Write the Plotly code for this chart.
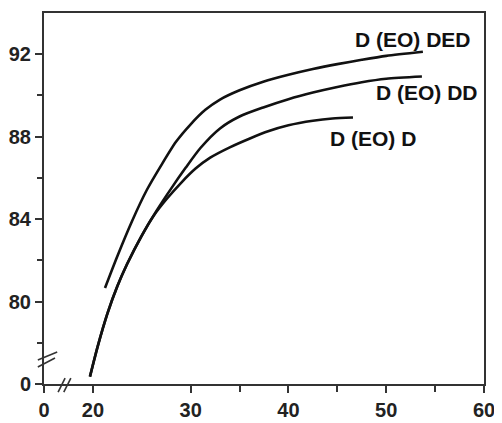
import plotly.graph_objects as go

# ---- data ----
ded_x = [21.24, 22.5, 24.0, 25.5, 27.0, 28.5, 30.0, 31.5, 33.0, 35.0, 37.5, 40.0, 42.5, 45.0, 47.5, 50.0, 53.75]
ded_y = [80.66, 82.20, 83.90, 85.40, 86.62, 87.75, 88.60, 89.30, 89.80, 90.25, 90.68, 91.00, 91.28, 91.52, 91.73, 91.92, 92.12]

dd_x = [19.70, 20.5, 21.5, 22.5, 23.5, 25.0, 26.5, 28.0, 29.5, 31.0, 33.0, 35.0, 37.5, 40.0, 42.5, 45.0, 47.5, 50.0, 53.65]
dd_y = [76.36, 77.84, 79.44, 80.74, 81.82, 83.20, 84.40, 85.48, 86.50, 87.45, 88.40, 88.98, 89.43, 89.82, 90.14, 90.41, 90.64, 90.81, 90.92]

d_x = [19.70, 20.5, 21.5, 22.5, 23.5, 25.0, 26.2, 27.5, 29.0, 30.5, 32.0, 34.0, 36.0, 38.0, 40.0, 42.5, 44.5, 46.6]
d_y = [76.36, 77.84, 79.44, 80.74, 81.82, 83.20, 84.15, 84.95, 85.75, 86.45, 86.98, 87.48, 87.90, 88.27, 88.55, 88.77, 88.88, 88.93]

series_names = ["D (EO) DED", "D (EO) DD", "D (EO) D"]
label_x = [52.73, 54.21, 48.64]
label_y = [92.70, 90.14, 87.92]

x_tickvals = [15, 20, 30, 40, 50, 60]
x_ticktext = ["0", "20", "30", "40", "50", "60"]
x_minor = [35, 45, 55]
y_tickvals = [76, 80, 84, 88, 92]
y_ticktext = ["0", "80", "84", "88", "92"]
y_minor = [78, 82, 86, 90]

FONT = "Liberation Sans, Arial, sans-serif"

fig = go.Figure()
for xs, ys in [(ded_x, ded_y), (dd_x, dd_y), (d_x, d_y)]:
    fig.add_trace(go.Scatter(x=xs, y=ys, mode="lines",
                             line=dict(color="#111111", width=2.6, shape="spline", smoothing=0.7),
                             showlegend=False, hoverinfo="skip"))

for name, lx, ly in zip(series_names, label_x, label_y):
    fig.add_annotation(x=lx, y=ly, text=name, showarrow=False, xref="x", yref="y",
                       font=dict(family=FONT, size=21, color="#111111", weight="bold"))

# axis-break marks (decoration)
brk = dict(color="#333333", width=1.6)
for (x0, y0, x1, y1) in [(-0.014, 0.065, 0.030, 0.086), (-0.014, 0.046, 0.025, 0.070)]:
    fig.add_shape(type="line", xref="paper", yref="paper", x0=x0, y0=y0, x1=x1, y1=y1, line=brk)
for (x0, y0, x1, y1) in [(0.032, -0.022, 0.048, 0.016), (0.045, -0.022, 0.061, 0.016)]:
    fig.add_shape(type="line", xref="paper", yref="paper", x0=x0, y0=y0, x1=x1, y1=y1, line=brk)

axis_common = dict(showgrid=False, zeroline=False, showline=True, linecolor="#333333",
                   linewidth=2, mirror=True, ticks="outside", tickcolor="#333333",
                   tickwidth=1.5, ticklen=7, automargin=False,
                   tickfont=dict(family=FONT, size=20, color="#222222", weight="bold"))

fig.update_xaxes(range=[15, 60], tickmode="array", tickvals=x_tickvals, ticktext=x_ticktext,
                 minor=dict(tickmode="array", tickvals=x_minor, ticks="outside", ticklen=6,
                            tickcolor="#333333", tickwidth=1.5),
                 **axis_common)
fig.update_yaxes(range=[76, 94], tickmode="array", tickvals=y_tickvals, ticktext=y_ticktext,
                 minor=dict(tickmode="array", tickvals=y_minor, ticks="outside", ticklen=5,
                            tickcolor="#333333", tickwidth=1.5),
                 **axis_common)

# page body has an 8px margin, so the figure is sized to fit the window
fig.update_layout(width=494, height=415, margin=dict(l=36, r=18, t=5, b=39),
                  paper_bgcolor="white", plot_bgcolor="white")

fig.write_html("out.html")
